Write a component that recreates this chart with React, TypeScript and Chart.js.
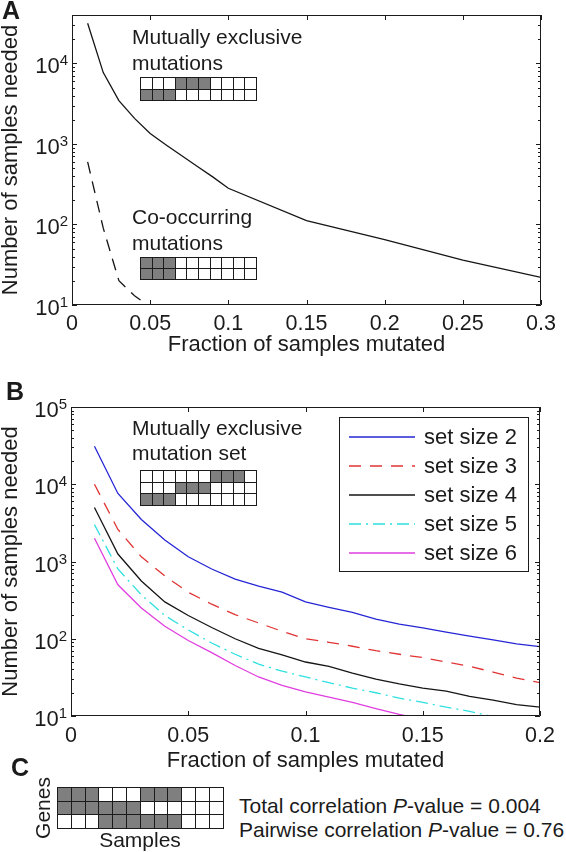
import React, { useEffect, useRef } from 'react';
import { Chart, registerables } from 'chart.js';

Chart.register(...registerables);

const FONT = '"Liberation Sans", Arial, Helvetica, sans-serif';
const INK = '#1b1b1b';
const GRAY = '#7f7f7f';

// ---------------- Panel A data ----------------
const fracA = [0.01, 0.02, 0.03, 0.04, 0.05, 0.06, 0.07, 0.08, 0.09, 0.1, 0.15, 0.2, 0.25, 0.3];
const mutExclA = [31600, 7700, 3460, 2080, 1350, 980, 720, 530, 390, 282, 112, 65, 36, 22];
const fracCoA = [0.01, 0.02, 0.03, 0.04, 0.05];
const coOccA = [600, 90, 20, 13, 9.5];
const xTicksA = [0, 0.05, 0.1, 0.15, 0.2, 0.25, 0.3];
const xLabelsA = ['0', '0.05', '0.1', '0.15', '0.2', '0.25', '0.3'];
const yExpA = [1, 2, 3, 4];
const yMinA = 10;
const yMaxA = 40000;

// ---------------- Panel B data ----------------
const fracB = [0.01, 0.02, 0.03, 0.04, 0.05, 0.06, 0.07, 0.08, 0.09, 0.1, 0.11, 0.12, 0.13, 0.14, 0.15, 0.16, 0.17, 0.18, 0.19, 0.2];
const setSize2 = [31000, 7600, 3500, 1900, 1150, 800, 590, 480, 400, 300, 255, 220, 180, 155, 138, 122, 108, 97, 86, 79];
const setSize3 = [10000, 2600, 1150, 650, 400, 280, 205, 160, 125, 100, 90, 80, 70, 63, 57, 50, 44, 37, 31, 27];
const setSize4 = [5000, 1250, 560, 300, 200, 140, 100, 75, 62, 50, 44, 36, 30, 26, 23, 21, 18, 16, 14, 13];
const setSize5 = [3000, 800, 370, 200, 130, 88, 63, 47, 38, 32, 27, 23, 20, 17, 15, 13, 11.5, 9.8, 8.5, 7.5];
const setSize6 = [2000, 500, 250, 145, 95, 66, 45, 32, 25, 20.5, 17.5, 15, 12.5, 10.5, 9, 8, 7, 6.3, 5.8, 5.5];
const legendLabelsB = ['set size 2', 'set size 3', 'set size 4', 'set size 5', 'set size 6'];
const xTicksB = [0, 0.05, 0.1, 0.15, 0.2];
const xLabelsB = ['0', '0.05', '0.1', '0.15', '0.2'];
const yExpB = [1, 2, 3, 4, 5];
const yMinB = 10;
const yMaxB = 100000;

// ---------------- Text ----------------
const X_TITLE = 'Fraction of samples mutated';
const Y_TITLE = 'Number of samples needed';

// ---------------- Inset grids ----------------
const gridMutExclA = ['0001110000', '1110000000'];
const gridCoOccA = ['1110000000', '1110000000'];
const gridMutSetB = ['0000001110', '0001110000', '1110000000'];
const gridC = ['111000111000', '111111000000', '000111111000'];

const matlabAxes = {
  id: 'matlabAxes',
  afterDraw(chart: any, _a: any, o: any) {
    const { ctx, chartArea, scales } = chart;
    const x = scales.x;
    const y = scales.y;
    const L = chartArea.left, R = chartArea.right, T = chartArea.top, B = chartArea.bottom;
    ctx.save();
    ctx.strokeStyle = INK;
    ctx.lineWidth = 1;
    ctx.beginPath();
    ctx.rect(L + 0.5, T + 0.5, R - L - 1, B - T - 1);
    for (const v of o.xTicks) {
      const px = Math.round(x.getPixelForValue(v)) + 0.5;
      ctx.moveTo(px, B); ctx.lineTo(px, B - 5);
      ctx.moveTo(px, T); ctx.lineTo(px, T + 5);
    }
    const e0 = Math.floor(Math.log10(y.min));
    const e1 = Math.ceil(Math.log10(y.max));
    for (let e = e0; e <= e1; e++) {
      for (let m = 1; m <= 9; m++) {
        const v = m * Math.pow(10, e);
        if (v < y.min * 0.999 || v > y.max * 1.001) continue;
        const py = Math.round(y.getPixelForValue(v)) + 0.5;
        const len = m === 1 ? 5 : 3;
        ctx.moveTo(L, py); ctx.lineTo(L + len, py);
        ctx.moveTo(R, py); ctx.lineTo(R - len, py);
      }
    }
    ctx.stroke();

    ctx.fillStyle = INK;
    ctx.textBaseline = 'alphabetic';
    ctx.textAlign = 'center';
    ctx.font = `21.5px ${FONT}`;
    o.xTicks.forEach((v: number, i: number) => {
      ctx.fillText(o.xLabels[i], x.getPixelForValue(v), B + o.xLabelDy);
    });
    for (const e of o.yExps) {
      const py = y.getPixelForValue(Math.pow(10, e));
      const xr = L - 4;
      ctx.textAlign = 'right';
      ctx.font = `15px ${FONT}`;
      const sw = ctx.measureText(String(e)).width;
      ctx.fillText(String(e), xr, py + 2);
      ctx.font = `22px ${FONT}`;
      ctx.fillText('10', xr - sw, py + 10);
    }
    ctx.textAlign = 'center';
    ctx.font = `22px ${FONT}`;
    ctx.fillText(o.xTitle, (L + R) / 2, B + o.xTitleDy);
    ctx.save();
    ctx.translate(o.yTitleX, (T + B) / 2);
    ctx.rotate(-Math.PI / 2);
    ctx.textBaseline = 'middle';
    ctx.fillText(o.yTitle, 0, 0);
    ctx.restore();
    ctx.restore();
  },
};

const insetLegend = {
  id: 'insetLegend',
  afterDraw(chart: any, _a: any, o: any) {
    const { ctx } = chart;
    ctx.save();
    ctx.fillStyle = '#fff';
    ctx.fillRect(o.left, o.top, o.width, o.height);
    ctx.strokeStyle = INK;
    ctx.lineWidth = 1;
    ctx.strokeRect(o.left + 0.5, o.top + 0.5, o.width, o.height);
    chart.data.datasets.forEach((ds: any, i: number) => {
      const cy = o.firstRow + i * o.rowStep;
      ctx.beginPath();
      ctx.strokeStyle = ds.borderColor;
      ctx.lineWidth = 1.5;
      ctx.setLineDash(ds.borderDash || []);
      ctx.moveTo(o.lineX0, cy);
      ctx.lineTo(o.lineX1, cy);
      ctx.stroke();
      ctx.setLineDash([]);
      ctx.fillStyle = INK;
      ctx.font = `22px ${FONT}`;
      ctx.textAlign = 'left';
      ctx.textBaseline = 'middle';
      ctx.fillText(ds.label, o.textX, cy + 1);
    });
    ctx.restore();
  },
};

function ChartCanvas({ top, height, config }: { top: number; height: number; config: any }) {
  const ref = useRef<HTMLCanvasElement | null>(null);
  useEffect(() => {
    if (!ref.current) return;
    const c = new Chart(ref.current, config);
    return () => c.destroy();
  }, []);
  return (
    <canvas
      ref={ref}
      width={566}
      height={height}
      style={{ position: 'absolute', left: 0, top, width: 566, height }}
    />
  );
}

function baseOptions(xMax: number, yMin: number, yMax: number, pad: any, xH: number, yW: number, axesOpts: any, extraPlugins: any = {}) {
  return {
    animation: false,
    responsive: false,
    maintainAspectRatio: false,
    layout: { padding: pad },
    plugins: {
      legend: { display: false },
      tooltip: { enabled: false },
      matlabAxes: axesOpts,
      ...extraPlugins,
    },
    elements: { point: { radius: 0 }, line: { tension: 0 } },
    scales: {
      x: {
        type: 'linear', min: 0, max: xMax,
        grid: { display: false }, border: { display: false }, ticks: { display: false },
        afterFit: (s: any) => { s.height = xH; },
      },
      y: {
        type: 'logarithmic', min: yMin, max: yMax,
        grid: { display: false }, border: { display: false }, ticks: { display: false },
        afterFit: (s: any) => { s.width = yW; },
      },
    },
  };
}

const pts = (xs: number[], ys: number[]) => xs.map((x, i) => ({ x, y: ys[i] }));

function PanelA() {
  const config = {
    type: 'line',
    data: {
      datasets: [
        { label: 'Mutually exclusive', data: pts(fracA, mutExclA), borderColor: '#151515', borderWidth: 1.3, pointRadius: 0 },
        { label: 'Co-occurring', data: pts(fracCoA, coOccA), borderColor: '#151515', borderWidth: 1.3, borderDash: [12, 8], pointRadius: 0 },
      ],
    },
    options: baseOptions(0.3, yMinA, yMaxA, { top: 15, right: 25, left: 0, bottom: 0 }, 55, 72, {
      xTicks: xTicksA, xLabels: xLabelsA, yExps: yExpA,
      xLabelDy: 25, xTitleDy: 46, xTitle: X_TITLE, yTitle: Y_TITLE, yTitleX: 11,
    }),
    plugins: [matlabAxes],
  };
  return <ChartCanvas top={0} height={360} config={config} />;
}

function PanelB() {
  const series = [setSize2, setSize3, setSize4, setSize5, setSize6];
  const colors = ['#2626d6', '#e03434', '#151515', '#2fe0e0', '#e03ee0'];
  const dashes: any[] = [[], [12, 9], [], [12, 5, 2, 5], []];
  const config = {
    type: 'line',
    data: {
      datasets: series.map((s, i) => ({
        label: legendLabelsB[i],
        data: pts(fracB, s),
        borderColor: colors[i],
        borderWidth: 1.3,
        borderDash: dashes[i],
        pointRadius: 0,
      })),
    },
    options: baseOptions(0.2, yMinB, yMaxB, { top: 47, right: 26, left: 0, bottom: 0 }, 59, 71, {
      xTicks: xTicksB, xLabels: xLabelsB, yExps: yExpB,
      xLabelDy: 26, xTitleDy: 51, xTitle: X_TITLE, yTitle: Y_TITLE, yTitleX: 11,
    }, {
      insetLegend: { left: 339, top: 57, width: 189, height: 154, firstRow: 77, rowStep: 29, lineX0: 349, lineX1: 415, textX: 424 },
    }),
    plugins: [matlabAxes, insetLegend],
  };
  return <ChartCanvas top={360} height={415} config={config} />;
}

function Cells({ rows, left, top, cw, ch }: { rows: string[]; left: number; top: number; cw: number; ch: number }) {
  return (
    <>
      {rows.flatMap((r, i) =>
        r.split('').map((c, j) => (
          <div
            key={`${i}-${j}`}
            style={{
              position: 'absolute',
              left: Math.round(left + j * cw),
              top: Math.round(top + i * ch),
              width: Math.round(left + (j + 1) * cw) - Math.round(left + j * cw) + 1,
              height: Math.round(top + (i + 1) * ch) - Math.round(top + i * ch) + 1,
              boxSizing: 'border-box',
              border: `1px solid ${INK}`,
              background: c === '1' ? GRAY : '#fff',
            }}
          />
        ))
      )}
    </>
  );
}

const txt = (left: number, top: number, lh: number, extra: any = {}) => ({
  position: 'absolute' as const, left, top, fontSize: 21, lineHeight: `${lh}px`, whiteSpace: 'nowrap' as const, ...extra,
});

export default function App() {
  return (
    <div style={{ position: 'absolute', left: 0, top: 0, width: 566, height: 852, background: '#fff', fontFamily: FONT, color: INK, overflow: 'hidden' }}>
      <PanelA />
      <PanelB />

      {/* Panel letters */}
      <div style={txt(2, -5, 30, { fontWeight: 'bold', fontSize: 25 })}>A</div>
      <div style={txt(6, 376, 30, { fontWeight: 'bold', fontSize: 25 })}>B</div>
      <div style={txt(11, 752, 30, { fontWeight: 'bold', fontSize: 25 })}>C</div>

      {/* Panel A insets */}
      <div style={txt(132, 24, 26)}>Mutually exclusive<br />mutations</div>
      <Cells rows={gridMutExclA} left={140} top={77} cw={11.6} ch={11.5} />
      <div style={txt(132, 204, 26)}>Co-occurring<br />mutations</div>
      <Cells rows={gridCoOccA} left={140} top={257} cw={11.6} ch={11.2} />

      {/* Panel B inset */}
      <div style={txt(132, 415, 25)}>Mutually exclusive<br />mutation set</div>
      <Cells rows={gridMutSetB} left={140} top={470} cw={11.6} ch={11.7} />

      {/* Panel C */}
      <Cells rows={gridC} left={57} top={787} cw={13.8} ch={13.7} />
      <div style={txt(43 - 40, 808 - 13, 26, { width: 80, textAlign: 'center', transform: 'rotate(-90deg)' })}>Genes</div>
      <div style={txt(90, 827, 26, { width: 100, textAlign: 'center' })}>Samples</div>
      <div style={txt(239, 793, 26)}>Total correlation <i>P</i>-value = 0.004</div>
      <div style={txt(239, 817, 26)}>Pairwise correlation <i>P</i>-value = 0.76</div>
    </div>
  );
}
